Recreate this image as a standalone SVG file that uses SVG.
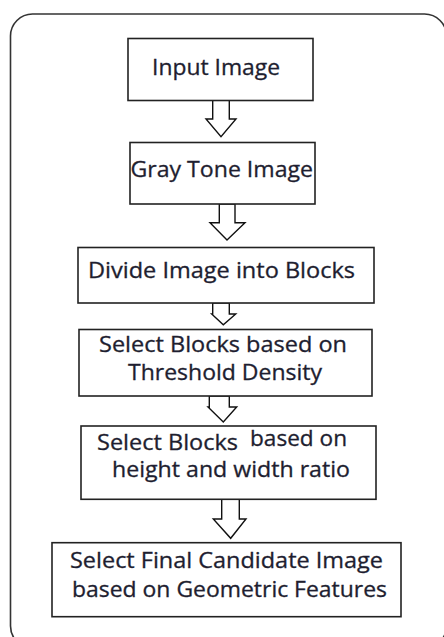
<svg xmlns="http://www.w3.org/2000/svg" width="444" height="637" viewBox="0 0 444 637">
<style>
.frame{fill:none;stroke:#333;stroke-width:1.6}
.box{fill:#fff;stroke:#222;stroke-width:1.6}
.arrow{fill:#fff;stroke:#111;stroke-width:1.4;stroke-linejoin:miter}
text{font-family:"Open Sans","Liberation Sans",sans-serif;font-size:21px;fill:#1e1e30;stroke:#1e1e30;stroke-width:0.3}
</style>
<rect width="444" height="637" fill="#fff"/>
<rect class="frame" x="10.5" y="14" width="436" height="634" rx="22" ry="22"/>
<g id="connectors">
<polygon class="arrow" points="212.7,100 229.3,100 229.3,119 236,119 221,136.7 206,119 212.7,119"/>
<polygon class="arrow" points="219.3,204 235,204 235,222.7 245,222.7 227,240 210,222.7 219.3,222.7"/>
<polygon class="arrow" points="212.7,303 229.3,303 229.3,314 235.7,314 223.3,324.7 211.7,314 212.7,314"/>
<polygon class="arrow" points="209.3,396 229.3,396 229.3,407 236.7,407 223.3,422 208,407 209.3,407"/>
<polygon class="arrow" points="221.7,499.3 239.3,499.3 239.3,519 246,519 230.7,538.3 213.3,519 221.7,519"/>
</g>
<g id="n1">
<rect class="box" x="128" y="38.5" width="185" height="62"/>
<text x="152" y="75" textLength="128" lengthAdjust="spacingAndGlyphs">Input Image</text>
</g>
<g id="n2">
<rect class="box" x="130" y="142.5" width="185" height="61.5"/>
<text x="130.5" y="176.7" textLength="182.5" lengthAdjust="spacingAndGlyphs">Gray Tone Image</text>
</g>
<g id="n3">
<rect class="box" x="78" y="247.5" width="296" height="55.5"/>
<text x="88" y="278" textLength="267" lengthAdjust="spacingAndGlyphs">Divide Image into Blocks</text>
</g>
<g id="n4">
<rect class="box" x="79" y="329.5" width="293" height="66.5"/>
<text x="99" y="351.7" textLength="248" lengthAdjust="spacingAndGlyphs">Select Blocks based on</text>
<text x="128" y="380" textLength="194" lengthAdjust="spacingAndGlyphs">Threshold Density</text>
</g>
<g id="n5">
<rect class="box" x="81" y="426" width="295" height="73.3"/>
<text x="97" y="450" textLength="141" lengthAdjust="spacingAndGlyphs">Select Blocks</text>
<text x="250" y="446" textLength="97" lengthAdjust="spacingAndGlyphs">based on</text>
<text x="112" y="476.7" textLength="238" lengthAdjust="spacingAndGlyphs">height and width ratio</text>
</g>
<g id="n6">
<rect class="box" x="52" y="542.7" width="349" height="74"/>
<text x="70" y="568.3" textLength="313" lengthAdjust="spacingAndGlyphs">Select Final Candidate Image</text>
<text x="72" y="596.7" textLength="315" lengthAdjust="spacingAndGlyphs">based on Geometric Features</text>
</g>
</svg>
